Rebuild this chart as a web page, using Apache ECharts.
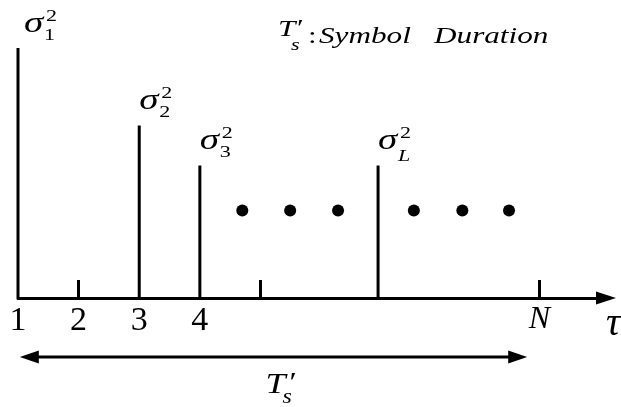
<!DOCTYPE html>
<html>
<head>
<meta charset="utf-8">
<script src="https://cdn.jsdelivr.net/npm/echarts@6/dist/echarts.min.js"></script>
<style>
  html, body { margin: 0; padding: 0; background: #fff; }
  #chart { width: 621px; height: 407px; }
</style>
</head>
<body>
<div id="chart"></div>
<script>
// Delay axis: labelled positions (in sample units) and their labels
const tickValues = [1, 2, 3, 4, 9.6];
const tickLabels = ['1', '2', '3', '4', 'N'];
// Short upward ticks on the delay axis
const minorTicks = [2, 5, 9.6];
// Multipath taps: delay, relative power, subscript of sigma^2
const pathDelays = [1, 3, 4, 6.94];
const pathPowers = [1.0, 0.69, 0.53, 0.53];
const pathIndex = ['1', '2', '3', 'L'];
// Ellipsis dots between the taps
const dotDelays = [4.70, 5.49, 6.28, 7.53, 8.33, 9.10];
const dotLevels = [0.35, 0.35, 0.35, 0.35, 0.35, 0.35];
// Span of one symbol duration T's
const durationSpan = [1.03, 9.40];
const axisMax = 10.70;

const SERIF = 'Liberation Serif';
const STRETCH = 1.3;

// Text placed by its baseline rather than its box
function glyph(x, baseline, text, size, italic, sx) {
  return {
    type: 'text',
    x: x,
    y: baseline - 0.34 * size,
    scaleX: sx || 1,
    silent: true,
    style: {
      text: text,
      fontFamily: SERIF,
      fontSize: size,
      fontStyle: italic ? 'italic' : 'normal',
      fontWeight: 'normal',
      fill: '#000',
      align: 'left',
      verticalAlign: 'middle'
    }
  };
}

const chart = echarts.init(document.getElementById('chart'), null, { renderer: 'canvas' });

const option = {
  animation: false,
  backgroundColor: '#fff',
  grid: {
    left: 18, right: 15, top: 48, bottom: 109,
    containLabel: false,
    outerBoundsMode: 'none'
  },
  xAxis: {
    type: 'value',
    min: 1,
    max: axisMax,
    splitLine: { show: false },
    axisLine: {
      show: true,
      lineStyle: { color: '#000', width: 3 },
      symbol: ['none', 'triangle'],
      symbolSize: [13, 20]
    },
    axisTick: {
      show: true,
      inside: true,
      length: 18,
      customValues: minorTicks,
      lineStyle: { color: '#000', width: 3 }
    },
    axisLabel: {
      show: true,
      customValues: tickValues,
      margin: 6,
      color: '#000',
      fontFamily: SERIF,
      fontSize: 34,
      formatter: function (v) {
        const i = tickValues.findIndex(t => Math.abs(t - v) < 1e-6);
        const s = i >= 0 ? tickLabels[i] : '';
        return /[A-Za-z]/.test(s) ? '{i|' + s + '}' : s;
      },
      rich: {
        i: { fontFamily: SERIF, fontStyle: 'italic', fontSize: 32, color: '#000' }
      }
    },
    name: 'τ',
    nameLocation: 'end',
    nameGap: 0,
    nameTextStyle: {
      fontFamily: SERIF,
      fontStyle: 'italic',
      fontSize: 40,
      color: '#000',
      align: 'left',
      verticalAlign: 'top',
      padding: [6, 0, 0, 0]
    }
  },
  yAxis: {
    type: 'value',
    min: 0,
    max: 1,
    show: false
  },
  graphic: [{
    type: 'group',
    children: [
      glyph(278, 38, 'T', 24, true, STRETCH),
      glyph(291, 51, 's', 17, true, STRETCH),
      glyph(297, 37, '′', 24, false, STRETCH),
      glyph(308, 45, ':', 24, false, STRETCH),
      glyph(319, 45, 'Symbol', 24, true, STRETCH),
      glyph(434, 45, 'Duration', 24, true, STRETCH)
    ]
  }],
  series: [
    {
      // Tap impulses with sigma^2 labels
      type: 'custom',
      data: pathDelays.map((d, i) => [d, pathPowers[i], i]),
      renderItem: function (params, api) {
        const base = api.coord([api.value(0), 0]);
        const top = api.coord([api.value(0), api.value(1)]);
        const i = api.value(2);
        const lx = top[0] + (i === 0 ? 6 : 0);
        const sub = pathIndex[i];
        const isLetter = /[A-Za-z]/.test(sub);
        return {
          type: 'group',
          children: [
            {
              type: 'line',
              shape: { x1: base[0], y1: base[1], x2: top[0], y2: top[1] },
              style: { stroke: '#000', lineWidth: 3 }
            },
            glyph(lx, top[1] - 14, 'σ', 30, true, STRETCH),
            glyph(lx + 20, top[1] - (isLetter ? 3 : 7), sub, 17, isLetter, STRETCH),
            glyph(lx + 22, top[1] - 26, '2', 17, false, STRETCH)
          ]
        };
      }
    },
    {
      // Ellipsis between taps
      type: 'scatter',
      data: dotDelays.map((d, i) => [d, dotLevels[i]]),
      symbol: 'circle',
      symbolSize: 12,
      itemStyle: { color: '#000', opacity: 1 }
    },
    {
      // Double-headed arrow marking one symbol duration
      type: 'custom',
      data: [durationSpan],
      renderItem: function (params, api) {
        const a = api.coord([api.value(0), 0]);
        const b = api.coord([api.value(1), 0]);
        const y = a[1] + 59;
        const len = 19, half = 6.5;
        const mid = (a[0] + b[0]) / 2;
        return {
          type: 'group',
          children: [
            {
              type: 'line',
              shape: { x1: a[0] + len - 2, y1: y, x2: b[0] - len + 2, y2: y },
              style: { stroke: '#000', lineWidth: 3 }
            },
            {
              type: 'polygon',
              shape: { points: [[a[0], y], [a[0] + len, y - half], [a[0] + len, y + half]] },
              style: { fill: '#000' }
            },
            {
              type: 'polygon',
              shape: { points: [[b[0], y], [b[0] - len, y - half], [b[0] - len, y + half]] },
              style: { fill: '#000' }
            },
            glyph(mid - 8, y + 38, 'T', 30, true, 1.2),
            glyph(mid + 9, y + 48, 's', 20, true, 1.2),
            glyph(mid + 16, y + 36, '′', 28, false, 1.2)
          ]
        };
      }
    }
  ]
};

chart.setOption(option);
</script>
</body>
</html>
